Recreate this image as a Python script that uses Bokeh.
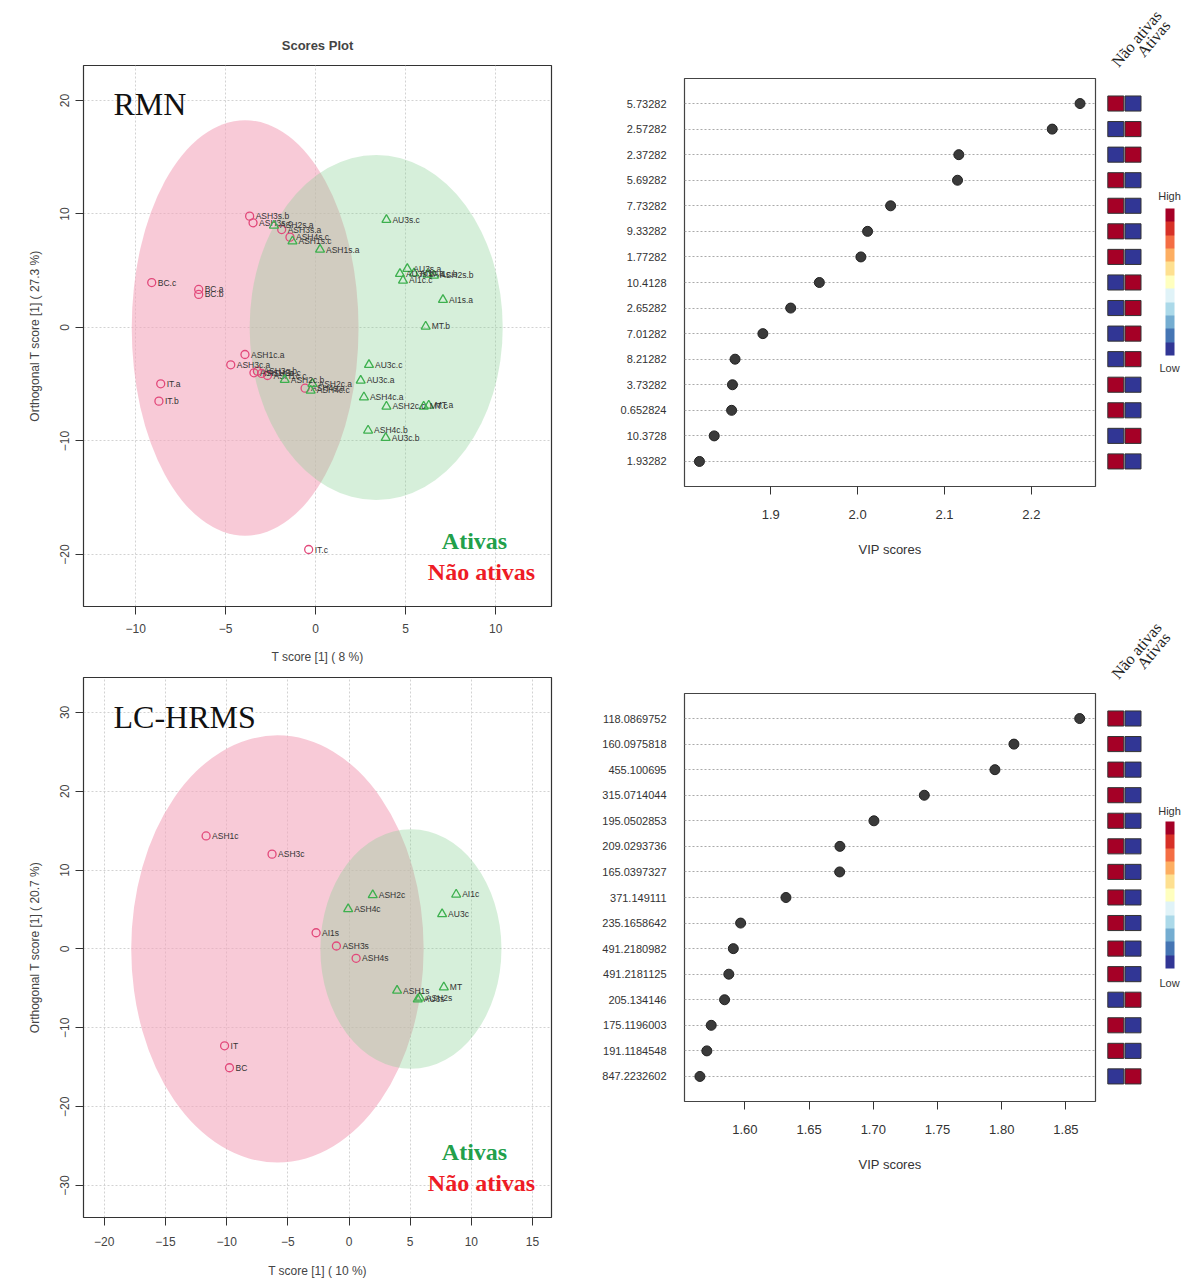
from bokeh.plotting import figure
from bokeh.layouts import row, column
from bokeh.models import (ColumnDataSource, Range1d, FixedTicker, Label, ColorBar,
                          LinearColorMapper, NumeralTickFormatter)
from bokeh.core.properties import value
from bokeh.palettes import RdYlBu11
from bokeh.embed import file_html
from bokeh.resources import INLINE

# ---------------- RMN scores ----------------
rmn_labels = ["ASH3s.b", "ASH3s.c", "ASH3s.a", "ASH4s.c", "BC.c", "BC.a", "BC.b",
              "ASH1c.a", "ASH3c.a", "ASH1c.b", "ASH3c.b", "ASH3c.c", "ASH1c.c",
              "IT.a", "IT.b", "ASH4s.a", "IT.c",
              "ASH2s.a", "ASH1s.c", "ASH1s.a", "AU3s.c", "AU3s.a", "AU3s.b", "AI1c.c",
              "AI1c.a", "AI1c.b", "ASH2s.b", "AI1s.a", "MT.b", "ASH2c.b", "ASH2c.a",
              "ASH4c.c", "AU3c.c", "AU3c.a", "ASH4c.a", "ASH2c.c", "MT.c", "MT.a",
              "ASH4c.b", "AU3c.b"]
rmn_t = [-3.67, -3.48, -1.89, -1.43, -9.11, -6.5, -6.5,
         -3.93, -4.72, -3.43, -3.24, -3.0, -2.68,
         -8.61, -8.71, -0.59, -0.39,
         -2.32, -1.29, 0.24, 3.93, 5.09, 4.68, 4.85,
         5.46, 6.21, 6.57, 7.07, 6.11, -1.72, -0.18,
         -0.28, 2.96, 2.5, 2.68, 3.93, 6.0, 6.28,
         2.91, 3.89]
rmn_orth = [9.81, 9.22, 8.63, 7.96, 3.96, 3.35, 2.91,
            -2.38, -3.29, -3.99, -3.85, -4.05, -4.23,
            -4.96, -6.49, -5.35, -19.56,
            8.99, 7.6, 6.87, 9.49, 5.17, 4.73, 4.14,
            4.78, 4.67, 4.58, 2.44, 0.09, -4.61, -4.96,
            -5.55, -3.29, -4.67, -6.14, -6.96, -6.96, -6.87,
            -9.07, -9.72]
rmn_group = ["N"] * 17 + ["A"] * 23
# ellipses: [Não ativas, Ativas]
rmn_ell_cx = [-3.92, 3.36]
rmn_ell_cy = [-0.04, 0.0]
rmn_ell_w = [12.6, 14.06]
rmn_ell_h = [36.6, 30.4]

# ---------------- LC-HRMS scores ----------------
lc_labels = ["ASH1c", "ASH3c", "AI1s", "ASH3s", "ASH4s", "IT", "BC",
             "ASH2c", "ASH4c", "AI1c", "AU3c", "ASH1s", "MT", "ASH2s", "AU3s"]
lc_t = [-11.68, -6.29, -2.69, -1.03, 0.58, -10.17, -9.77,
        1.94, -0.07, 8.76, 7.61, 3.93, 7.75, 5.78, 5.62]
lc_orth = [14.34, 12.03, 2.06, 0.38, -1.18, -12.28, -15.06,
           6.84, 5.06, 6.92, 4.43, -5.27, -4.85, -6.16, -6.37]
lc_group = ["N"] * 7 + ["A"] * 8
lc_ell_cx = [-5.85, 5.06]
lc_ell_cy = [0.0, 0.0]
lc_ell_w = [23.9, 14.8]
lc_ell_h = [54.2, 30.4]

# ---------------- VIP RMN ----------------
rmn_features = ["5.73282", "2.57282", "2.37282", "5.69282", "7.73282", "9.33282",
                "1.77282", "10.4128", "2.65282", "7.01282", "8.21282", "3.73282",
                "0.652824", "10.3728", "1.93282"]
rmn_vip = [2.256, 2.224, 2.1165, 2.115, 2.038, 2.0115, 2.0038, 1.956, 1.923,
           1.891, 1.859, 1.856, 1.855, 1.835, 1.818]
rmn_nao_high = [1, 0, 0, 1, 1, 1, 1, 0, 0, 0, 0, 1, 1, 0, 1]
rmn_ativ_high = [0, 1, 1, 0, 0, 0, 0, 1, 1, 1, 1, 0, 0, 1, 0]

# ---------------- VIP LC-HRMS ----------------
lc_features = ["118.0869752", "160.0975818", "455.100695", "315.0714044",
               "195.0502853", "209.0293736", "165.0397327", "371.149111",
               "235.1658642", "491.2180982", "491.2181125", "205.134146",
               "175.1196003", "191.1184548", "847.2232602"]
lc_vip = [1.8607, 1.8095, 1.7947, 1.7397, 1.7005, 1.674, 1.6738, 1.632,
          1.5967, 1.591, 1.5875, 1.5842, 1.5738, 1.5704, 1.565]
lc_nao_high = [1, 1, 1, 1, 1, 1, 1, 1, 1, 1, 1, 0, 1, 1, 0]
lc_ativ_high = [0, 0, 0, 0, 0, 0, 0, 0, 0, 0, 0, 1, 0, 0, 1]

heat_cols = ["Não ativas", "Ativas"]

PINK = "#E2487A"
GREEN = "#3DB04E"
SANS = "Liberation Sans"
SERIF = "Liberation Serif"


def style_axis(ax, size="12px"):
    ax.axis_line_color = "#333"
    ax.major_tick_line_color = "#333"
    ax.major_tick_out = 8
    ax.major_tick_in = 0
    ax.minor_tick_line_color = None
    ax.major_label_text_font = SANS
    ax.major_label_text_font_size = size
    ax.major_label_text_color = "#444"
    ax.axis_label_text_font = SANS
    ax.axis_label_text_font_size = "12px"
    ax.axis_label_text_font_style = "normal"
    ax.axis_label_text_color = "#444"


def scores_plot(labels, tx, ty, groups, ecx, ecy, ew, eh, xr, yr, xticks, yticks,
                xlab, ylab, tag, tag_y, w, h, bl, br, bt, bb, xstand, title=None):
    p = figure(width=w, height=h, x_range=Range1d(*xr), y_range=Range1d(*yr),
               output_backend="svg", toolbar_location=None, title=title,
               min_border_left=bl, min_border_right=br, min_border_top=bt,
               min_border_bottom=bb)
    p.outline_line_color = "#333"
    p.outline_line_width = 1.2
    if title:
        p.title.align = "center"
        p.title.text_font = SANS
        p.title.text_font_size = "13px"
        p.title.text_font_style = "bold"
        p.title.standoff = 26
    p.xgrid.ticker = FixedTicker(ticks=xticks)
    p.ygrid.ticker = FixedTicker(ticks=yticks)
    p.grid.grid_line_color = "#d2d2d2"
    p.grid.grid_line_dash = "2 2"
    p.ellipse(x=[ecx[0]], y=[ecy[0]], width=[ew[0]], height=[eh[0]],
              fill_color="#F4A6BC", fill_alpha=0.6, line_color=None)
    p.ellipse(x=[ecx[1]], y=[ecy[1]], width=[ew[1]], height=[eh[1]],
              fill_color="#8AD195", fill_alpha=0.35, line_color=None)
    for g, marker, col, sz in [("N", "circle", PINK, 8), ("A", "triangle", GREEN, 9)]:
        idx = [i for i, gg in enumerate(groups) if gg == g]
        src = ColumnDataSource(dict(x=[tx[i] for i in idx], y=[ty[i] for i in idx],
                                    label=[labels[i] for i in idx]))
        p.scatter(x="x", y="y", source=src, marker=marker, size=sz, fill_color=None,
                  line_color=col, line_width=1.3)
        p.text(x="x", y="y", text="label", source=src, x_offset=6,
               text_baseline="middle", text_font_size="8.5px", text_color="#333",
               text_font=value(SANS))
    p.xaxis.ticker = FixedTicker(ticks=xticks)
    p.yaxis.ticker = FixedTicker(ticks=yticks)
    p.xaxis.bounds = (min(xticks), max(xticks))
    p.yaxis.bounds = (min(yticks), max(yticks))
    style_axis(p.xaxis[0])
    style_axis(p.yaxis[0])
    p.xaxis.axis_label = xlab
    p.yaxis.axis_label = ylab
    p.xaxis.major_label_standoff = xstand[0]
    p.xaxis.axis_label_standoff = xstand[1]
    p.yaxis.major_label_orientation = "vertical"
    p.yaxis.major_label_standoff = 6
    p.yaxis.axis_label_standoff = 16
    p.add_layout(Label(x=30, y=tag_y, x_units="screen", y_units="screen", text=tag,
                       text_font=SERIF, text_font_size="32px", text_baseline="middle",
                       text_color="#111"))
    p.add_layout(Label(x=391, y=66, x_units="screen", y_units="screen", text="Ativas",
                       text_font=SERIF, text_font_size="24px", text_font_style="bold",
                       text_align="center", text_baseline="middle", text_color="#22A04B"))
    p.add_layout(Label(x=398, y=35, x_units="screen", y_units="screen", text="Não ativas",
                       text_font=SERIF, text_font_size="24px", text_font_style="bold",
                       text_align="center", text_baseline="middle", text_color="#EE1C25"))
    return p


def vip_plot(features, vip, xticks, xr, yr, fmt, w, h, bl, br, bt, bb):
    n = len(features)
    pos = [n - i for i in range(n)]
    p = figure(width=w, height=h, x_range=Range1d(*xr), y_range=Range1d(*yr),
               output_backend="svg", toolbar_location=None,
               min_border_left=bl, min_border_right=br, min_border_top=bt,
               min_border_bottom=bb)
    p.outline_line_color = "#444"
    p.outline_line_width = 1.2
    p.xgrid.visible = False
    p.ygrid.ticker = FixedTicker(ticks=pos)
    p.ygrid.grid_line_color = "#aaa"
    p.ygrid.grid_line_dash = "2 2"
    p.scatter(x=vip, y=pos, size=10, fill_color="#3a3a3a", line_color="#222",
              line_width=1)
    p.xaxis.ticker = FixedTicker(ticks=xticks)
    p.xaxis.formatter = NumeralTickFormatter(format=fmt)
    style_axis(p.xaxis[0], "13px")
    p.xaxis.axis_line_color = None
    p.xaxis.major_label_text_color = "#333"
    p.xaxis.axis_label = "VIP scores"
    p.xaxis.axis_label_text_font_size = "13px"
    p.xaxis.axis_label_text_color = "#333"
    p.xaxis.major_label_standoff = 15
    p.xaxis.axis_label_standoff = 20
    p.yaxis.ticker = FixedTicker(ticks=pos)
    p.yaxis.major_label_overrides = {pos[i]: features[i] for i in range(n)}
    style_axis(p.yaxis[0], "11px")
    p.yaxis.major_label_text_color = "#333"
    p.yaxis.axis_line_color = None
    p.yaxis.major_tick_line_color = None
    p.yaxis.major_tick_out = 0
    p.yaxis.major_label_standoff = 18
    return p


def heat_plot(nao, ativ, yr, w, h, cb_bottom, high_y, low_y, head_y):
    n = len(nao)
    pos = [n - i for i in range(n)]
    mapper = LinearColorMapper(palette=list(RdYlBu11), low=0, high=1)
    p = figure(width=w, height=h, x_range=Range1d(0.11, 5.575), y_range=Range1d(*yr),
               output_backend="svg", toolbar_location=None,
               x_axis_location=None, y_axis_location=None,
               min_border_left=0, min_border_right=0, min_border_top=0,
               min_border_bottom=0, frame_align=False)
    p.outline_line_color = None
    p.grid.visible = False
    src = ColumnDataSource(dict(x=[1] * n + [2] * n, y=pos + pos, v=nao + ativ))
    p.rect(x="x", y="y", width=0.93, height=0.59, source=src,
           fill_color={"field": "v", "transform": mapper}, line_color="#333",
           line_width=1)
    cb = ColorBar(color_mapper=mapper, location=(65, cb_bottom), width=9, height=147,
                  padding=0, margin=0, ticker=FixedTicker(ticks=[]),
                  major_tick_line_color=None, bar_line_color=None,
                  background_fill_alpha=0, border_line_color=None)
    p.add_layout(cb)
    p.add_layout(Label(x=69, y=high_y, x_units="screen", y_units="screen", text="High",
                       text_font=SANS, text_font_size="11px", text_align="center",
                       text_baseline="middle", text_color="#333"))
    p.add_layout(Label(x=69, y=low_y, x_units="screen", y_units="screen", text="Low",
                       text_font=SANS, text_font_size="11px", text_align="center",
                       text_baseline="middle", text_color="#333"))
    for cx, name in zip([36, 53], heat_cols):
        p.add_layout(Label(x=cx, y=head_y, x_units="screen", y_units="screen", text=name,
                           angle=0.87, text_font=SERIF, text_font_size="16px",
                           text_align="center", text_baseline="middle",
                           text_color="#222"))
    return p


A = scores_plot(rmn_labels, rmn_t, rmn_orth, rmn_group, rmn_ell_cx, rmn_ell_cy,
                rmn_ell_w, rmn_ell_h, (-12.9, 13.1), (-24.58, 23.08),
                [-10, -5, 0, 5, 10], [-20, -10, 0, 10, 20],
                "T score [1] ( 8 %)", "Orthogonal T score [1] ( 27.3 %)",
                "RMN", 503, 590, 672, 83, 39, 65, 66, (9, 14), title="Scores Plot")
C = scores_plot(lc_labels, lc_t, lc_orth, lc_group, lc_ell_cx, lc_ell_cy,
                lc_ell_w, lc_ell_h, (-21.7, 16.55), (-34.05, 34.43),
                [-20, -15, -10, -5, 0, 5, 10, 15], [-30, -20, -10, 0, 10, 20, 30],
                "T score [1] ( 10 %)", "Orthogonal T score [1] ( 20.7 %)",
                "LC-HRMS", 501, 590, 608, 83, 39, 5, 62, (11, 15))

B = vip_plot(rmn_features, rmn_vip, [1.9, 2.0, 2.1, 2.2], (1.8008, 2.2738),
             (0.02, 15.98), "0.0", 510, 605, 94, 5, 78, 119)
HB = heat_plot(rmn_nao_high, rmn_ativ_high, (-4.636, 19.03), 94, 605,
               250, 410, 238, 567)
D = vip_plot(lc_features, lc_vip, [1.60, 1.65, 1.70, 1.75, 1.80, 1.85], (1.553, 1.873),
             (0.02, 15.98), "0.00", 510, 675, 94, 5, 88, 179)
HD = heat_plot(lc_nao_high, lc_ativ_high, (-6.983, 19.42), 94, 675,
               312, 470, 298, 630)

layout = row(column(A, C), column(row(B, HB), row(D, HD)))

open("out.html", "w").write(file_html(layout, INLINE))
